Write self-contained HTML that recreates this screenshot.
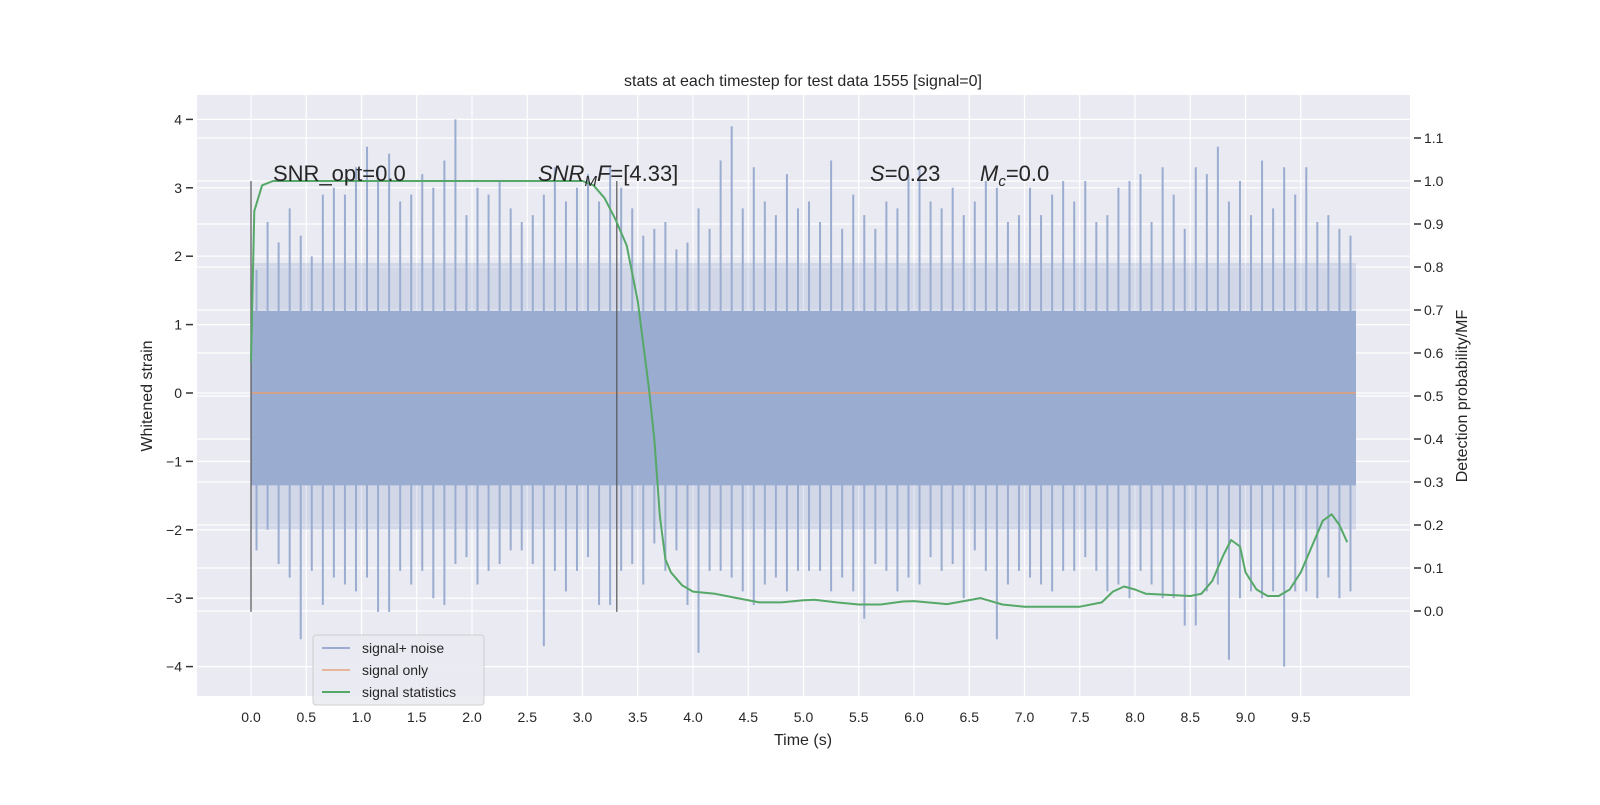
<!DOCTYPE html>
<html><head><meta charset="utf-8"><style>
body{margin:0;background:#fff}
svg text{font-family:"Liberation Sans","DejaVu Sans",sans-serif;fill:#262626}
</style></head><body>
<svg id="chart" width="1600" height="800" xmlns="http://www.w3.org/2000/svg">
<rect x="197" y="95" width="1213" height="601" fill="#eaeaf2"/>
<g id="grid"></g>
<g id="noise"></g>
<g id="marks"></g>
<g id="axes"></g>
<text x="803" y="86" font-size="16" text-anchor="middle">stats at each timestep for test data 1555 [signal=0]</text>
<text x="273" y="181" font-size="22">SNR_opt=0.0</text>
<text x="538" y="181" font-size="22"><tspan font-style="italic">SNR</tspan><tspan font-style="italic" font-size="15" dy="5">M</tspan><tspan font-style="italic" dy="-5">F</tspan>=[4.33]</text>
<text x="870" y="181" font-size="22"><tspan font-style="italic">S</tspan>=0.23</text>
<text x="980" y="181" font-size="22"><tspan font-style="italic">M</tspan><tspan font-style="italic" font-size="15" dy="5">c</tspan><tspan dy="-5">=0.0</tspan></text>
<text x="803" y="745" font-size="16" text-anchor="middle">Time (s)</text>
<text transform="translate(152,396) rotate(-90)" font-size="16" text-anchor="middle">Whitened strain</text>
<text transform="translate(1467,396) rotate(-90)" font-size="16" text-anchor="middle">Detection probability/MF</text>
<g>
<rect x="313" y="635" width="171" height="70" rx="3" fill="#eaeaf2" stroke="#ccc" opacity="0.9"/>
<line x1="322" y1="648" x2="350" y2="648" stroke="#9aaccf" stroke-width="2"/>
<text x="362" y="653" font-size="14">signal+ noise</text>
<line x1="322" y1="670" x2="350" y2="670" stroke="#e8b49a" stroke-width="2"/>
<text x="362" y="675" font-size="14">signal only</text>
<line x1="322" y1="692" x2="350" y2="692" stroke="#55a868" stroke-width="2"/>
<text x="362" y="697" font-size="14">signal statistics</text>
</g>
</svg>
<script>
const xTicks=[0,0.5,1,1.5,2,2.5,3,3.5,4,4.5,5,5.5,6,6.5,7,7.5,8,8.5,9,9.5];
const yTicks=[-4,-3,-2,-1,0,1,2,3,4];
const y2Ticks=[0,0.1,0.2,0.3,0.4,0.5,0.6,0.7,0.8,0.9,1.0,1.1];
const noiseUpper=[1.8,2.5,2.2,2.7,2.3,2.0,2.9,3.0,2.9,3.3,3.6,3.3,3.5,2.8,2.9,3.2,3.0,3.4,4.0,2.6,3.0,2.9,3.1,2.7,2.5,2.6,2.9,3.3,2.8,3.0,3.2,2.8,3.3,3.0,2.7,2.3,2.4,2.5,2.1,2.2,2.7,2.4,3.4,3.9,2.7,3.3,2.8,2.6,3.2,2.7,2.8,2.5,3.4,2.4,2.9,2.6,2.4,2.8,2.7,3.2,3.3,2.8,2.7,3.0,2.6,2.8,3.1,3.0,2.5,2.6,3.0,2.6,2.9,3.1,2.8,3.1,2.5,2.6,3.0,3.1,3.2,2.5,3.3,2.9,2.4,3.3,3.2,3.6,2.8,3.1,2.6,3.4,2.7,3.3,2.9,3.3,2.5,2.6,2.4,2.3];
const noiseLower=[-2.3,-2.0,-2.5,-2.7,-3.6,-2.6,-3.1,-2.7,-2.8,-2.9,-2.7,-3.2,-3.2,-2.6,-2.8,-2.6,-3.0,-3.1,-2.5,-2.4,-2.8,-2.6,-2.5,-2.3,-2.3,-2.5,-3.7,-2.6,-2.9,-2.6,-2.4,-3.1,-3.1,-2.6,-2.5,-2.8,-2.2,-2.6,-2.3,-3.1,-3.8,-2.6,-2.6,-2.7,-2.9,-3.1,-2.8,-2.7,-2.9,-2.6,-2.6,-2.6,-2.9,-2.7,-2.9,-3.3,-2.5,-2.6,-2.9,-2.7,-2.8,-2.4,-2.6,-2.5,-3.0,-2.3,-2.6,-3.6,-2.8,-2.6,-2.7,-2.8,-2.9,-2.6,-2.6,-2.4,-2.6,-2.9,-2.8,-3.0,-2.6,-2.8,-3.0,-3.0,-3.4,-3.4,-2.9,-2.8,-3.9,-3.0,-2.9,-3.0,-2.9,-4.0,-2.9,-2.9,-3.0,-2.7,-3.0,-2.9];
const statT=[0,0.03,0.1,0.2,1,2,3.0,3.1,3.2,3.3,3.4,3.5,3.6,3.65,3.7,3.75,3.8,3.9,4.0,4.2,4.4,4.6,4.8,5.0,5.1,5.3,5.5,5.7,5.9,6.0,6.3,6.6,6.8,7.0,7.5,7.7,7.8,7.9,8.0,8.1,8.5,8.6,8.7,8.8,8.87,8.95,9.0,9.1,9.2,9.3,9.4,9.5,9.6,9.7,9.78,9.85,9.92];
const statP=[0.58,0.93,0.99,1.0,1.0,1.0,1.0,0.99,0.96,0.91,0.85,0.72,0.52,0.4,0.22,0.12,0.09,0.06,0.045,0.04,0.03,0.02,0.02,0.025,0.026,0.02,0.015,0.015,0.022,0.023,0.016,0.03,0.015,0.01,0.01,0.02,0.045,0.057,0.05,0.04,0.035,0.04,0.07,0.13,0.165,0.15,0.09,0.05,0.035,0.035,0.05,0.09,0.15,0.21,0.225,0.2,0.16];
const vlineT=[0,3.31];
const NS="http://www.w3.org/2000/svg";
const X=t=>251+t*110.5, Y=v=>393-v*68.4, Y2=p=>611-p*430;
function mk(tag,attrs,parent){const e=document.createElementNS(NS,tag);for(const k in attrs)e.setAttribute(k,attrs[k]);parent.appendChild(e);return e;}
const grid=document.getElementById('grid'),axes=document.getElementById('axes'),noise=document.getElementById('noise'),marks=document.getElementById('marks');
xTicks.forEach(t=>{const l=mk('line',{x1:X(t),x2:X(t),y1:95,y2:696,stroke:'#fff','stroke-width':1.2},grid);

const tx=mk('text',{x:X(t),y:722,'font-size':14,'text-anchor':'middle'},axes);tx.textContent=t.toFixed(1);
});
yTicks.forEach(v=>{const l=mk('line',{x1:197,x2:1410,y1:Y(v),y2:Y(v),stroke:'#fff','stroke-width':1.2},grid);

const tk=mk('line',{x1:186,x2:193,y1:Y(v),y2:Y(v),stroke:'#333','stroke-width':1.5},axes);

const tx=mk('text',{x:182,y:Y(v)+5,'font-size':14,'text-anchor':'end'},axes);tx.textContent=v<0?'\u2212'+(-v):String(v);
});
y2Ticks.forEach(p=>{const l=mk('line',{x1:197,x2:1410,y1:Y2(p),y2:Y2(p),stroke:'#fff','stroke-width':1.2},grid);

const tk=mk('line',{x1:1414,x2:1421,y1:Y2(p),y2:Y2(p),stroke:'#333','stroke-width':1.5},axes);

const tx=mk('text',{x:1424,y:Y2(p)+5,'font-size':14},axes);tx.textContent=p.toFixed(1);
});
const band=mk('rect',{x:X(0),y:Y(1.2),width:X(10)-X(0),height:Y(-1.35)-Y(1.2),fill:'#9aaccf'},noise);

const mid=mk('rect',{x:X(0),y:Y(1.9),width:X(10)-X(0),height:Y(-2.0)-Y(1.9),fill:'#9aaccf',opacity:0.3},noise);

noiseUpper.forEach((v,i)=>{const t=i*0.1+0.05;
const s=mk('line',{x1:X(t),x2:X(t),y1:Y(0),y2:Y(v),stroke:'#9aaccf','stroke-width':2},noise);
});
noiseLower.forEach((v,i)=>{const t=i*0.1+0.05;
const s=mk('line',{x1:X(t),x2:X(t),y1:Y(0),y2:Y(v),stroke:'#9aaccf','stroke-width':2},noise);
});
const sig=mk('line',{x1:X(0),x2:X(10),y1:Y(0),y2:Y(0),stroke:'#e0a080','stroke-width':2,opacity:0.8},marks);

vlineT.forEach(t=>{const l=mk('line',{x1:X(t),x2:X(t),y1:Y(3.1),y2:Y(-3.2),stroke:'#555','stroke-width':1.5,opacity:0.8},marks);
});
const pts=statT.map((t,i)=>X(t).toFixed(1)+','+Y2(statP[i]).toFixed(1)).join(' ');
const g=mk('polyline',{points:pts,fill:'none',stroke:'#55a868','stroke-width':2,'stroke-linejoin':'round'},marks);

</script>
</body></html>
